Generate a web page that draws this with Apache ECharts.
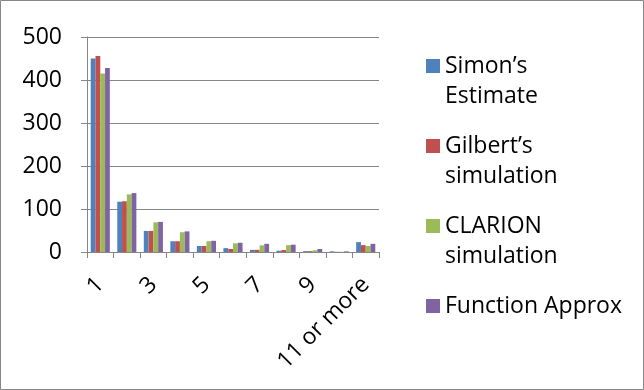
<!DOCTYPE html>
<html>
<head>
<meta charset="utf-8">
<script src="https://cdn.jsdelivr.net/npm/echarts@6/dist/echarts.min.js"></script>
<style>
  html, body { margin: 0; padding: 0; background: #fff; }
  #chart { width: 644px; height: 390px; }
</style>
</head>
<body>
<div id="chart"></div>
<script>
// Number of items per group (1 .. 10, then the tail bucket)
const categories = ['1', '2', '3', '4', '5', '6', '7', '8', '9', '10', '11 or more'];

const simonEstimate      = [450, 117, 49, 25, 14, 9, 5, 3, 2, 1.5, 23];
const gilbertSimulation  = [456, 118, 49, 25, 14, 7, 5, 4.5, 2, 0.5, 16];
const clarionSimulation  = [415, 134, 69, 46, 25, 20, 15.5, 16, 4, 0.5, 14];
const functionApprox     = [428, 137, 70, 48, 26, 21.5, 19, 17, 7, 1.5, 19];

const seriesNames = ["Simon\u2019s\nEstimate", "Gilbert\u2019s\nsimulation", "CLARION\nsimulation", "Function Approx"];
const seriesColors = ['#4F81BD', '#C0504D', '#9BBB59', '#8064A2'];
const seriesValues = [simonEstimate, gilbertSimulation, clarionSimulation, functionApprox];

const yTicks = { min: 0, max: 500, interval: 100 };

const FONT = '"Open Sans", "Noto Sans", sans-serif';
const GRID_GRAY = '#868686';

// Legend markers: the square sits beside the first text line
const twoLineIcon = 'path://M0,0h14v14h-14z M0,44h0.01v0.01z';
const oneLineIcon = 'path://M0,0h0.01v0.01z M0,8h14v14h-14z M0,30h0.01v0.01z';

const chart = echarts.init(document.getElementById('chart'), null, { renderer: 'canvas' });

chart.setOption({
  animation: false,
  backgroundColor: '#fff',
  color: seriesColors,
  graphic: [{
    type: 'rect',
    shape: { x: 0.5, y: 0.5, width: 643, height: 389 },
    style: { fill: 'none', stroke: GRID_GRAY, lineWidth: 1 },
    silent: true,
    z: -1
  }],
  grid: { left: 87, right: 265, top: 37, bottom: 138 },
  legend: {
    orient: 'vertical',
    left: 426,
    top: 51,
    padding: 0,
    itemGap: 20,
    itemWidth: 14,
    itemHeight: 44,
    symbolKeepAspect: true,
    selectedMode: false,
    textStyle: { fontFamily: FONT, fontSize: 23, color: '#000', lineHeight: 30 },
    data: seriesNames.map((n, i) => ({ name: n, icon: i === 3 ? oneLineIcon : twoLineIcon }))
  },
  xAxis: {
    type: 'category',
    data: categories,
    axisLine: { lineStyle: { color: GRID_GRAY, width: 1 } },
    axisTick: { show: true, length: 6, inside: false, alignWithLabel: false, interval: 0, lineStyle: { color: GRID_GRAY } },
    axisLabel: {
      interval: 1,
      rotate: 45,
      margin: 29,
      fontFamily: FONT,
      fontSize: 23,
      color: '#000'
    }
  },
  yAxis: {
    type: 'value',
    min: yTicks.min,
    max: yTicks.max,
    interval: yTicks.interval,
    axisLine: { show: true, lineStyle: { color: GRID_GRAY, width: 1 } },
    axisTick: { show: true, length: 6, lineStyle: { color: GRID_GRAY } },
    splitLine: { show: true, lineStyle: { color: GRID_GRAY, width: 1 } },
    axisLabel: { margin: 25, fontFamily: FONT, fontSize: 23, color: '#000' }
  },
  series: seriesNames.map((name, i) => ({
    name: name,
    type: 'bar',
    data: seriesValues[i],
    barGap: '0%',
    barCategoryGap: '28%',
    itemStyle: { color: seriesColors[i] }
  }))
});
</script>
</body>
</html>
